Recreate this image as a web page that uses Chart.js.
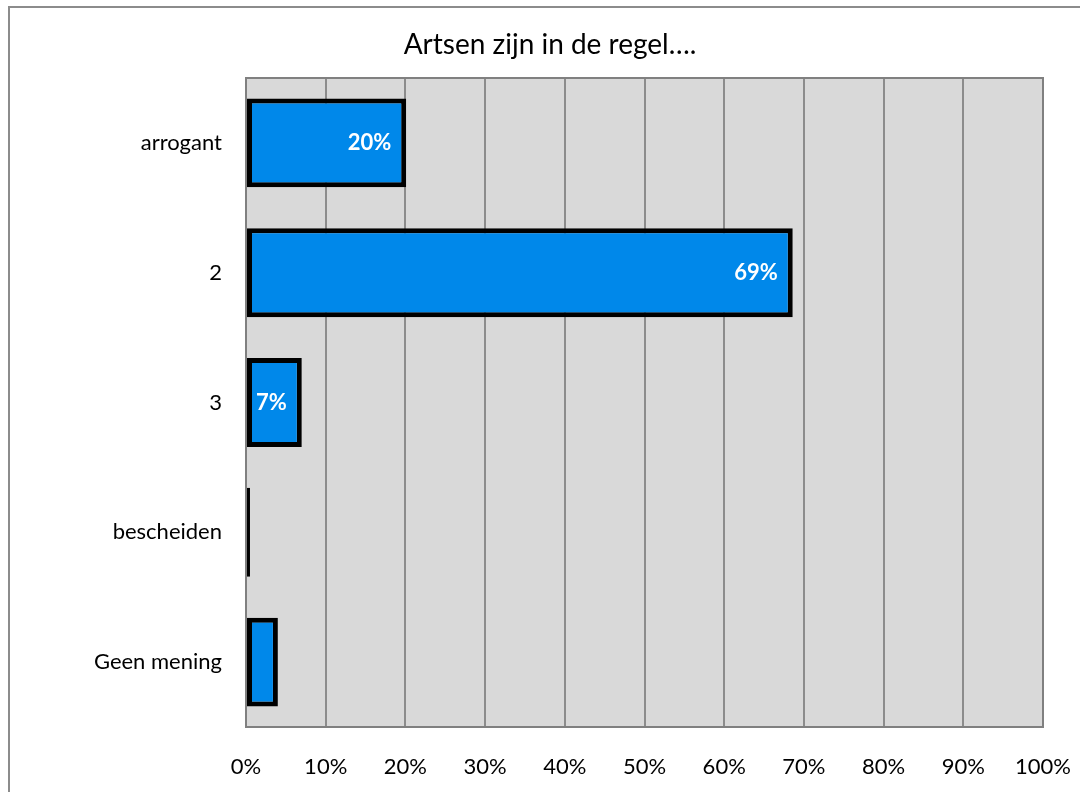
<!DOCTYPE html>
<html>
<head>
    <meta charset="utf-8">
    <title>Artsen zijn in de regel....</title>
    <script src="https://cdn.jsdelivr.net/npm/chart.js"></script>
    <style>
        html, body {
            margin: 0;
            overflow: hidden;
            background-color: #ffffff;
            font-family: 'Lato', sans-serif;
        }
        #frame {
            position: absolute;
            left: 8px;
            top: 6px;
            width: 1072px;
            height: 786px;
            border-left: 2px solid #8c8c8c;
            border-top: 2px solid #8c8c8c;
        }
        #wrap {
            position: absolute;
            left: 0;
            top: 0;
            width: 1080px;
            height: 792px;
        }
    </style>
</head>
<body>
    <div id="frame"></div>
    <div id="wrap">
        <canvas id="myChart"></canvas>
    </div>
    <script>
        const chartTitle = "Artsen zijn in de regel….";
        const categories = ["arrogant", "2", "3", "bescheiden", "Geen mening"];
        const shares = [20.1, 68.6, 7.0, 0.5, 4.0];
        const minLabelValue = 5;

        // grey plot background + border round the plot area
        var plotBox = {
            id: "plotBox",
            beforeDraw(chart) {
                const a = chart.chartArea;
                const ctx = chart.ctx;
                ctx.save();
                ctx.fillStyle = "#d9d9d9";
                ctx.fillRect(a.left, a.top, a.right - a.left, a.bottom - a.top);
                ctx.restore();
            },
            afterDraw(chart) {
                const a = chart.chartArea;
                const ctx = chart.ctx;
                ctx.save();
                ctx.strokeStyle = "#808080";
                ctx.lineWidth = 2;
                ctx.strokeRect(a.left, a.top, a.right - a.left, a.bottom - a.top);
                // title, centred over the frame like the original
                ctx.fillStyle = "#000000";
                ctx.font = "28px Lato";
                ctx.textAlign = "center";
                ctx.textBaseline = "middle";
                ctx.fillText(chartTitle, 550, 45);
                ctx.restore();
            }
        };

        // percentage labels inside the bar ends
        var barLabels = {
            id: "barLabels",
            afterDatasetsDraw(chart) {
                const ctx = chart.ctx;
                const meta = chart.getDatasetMeta(0);
                ctx.save();
                ctx.fillStyle = "#ffffff";
                ctx.font = "bold 22px Lato";
                ctx.textAlign = "right";
                ctx.textBaseline = "middle";
                meta.data.forEach((bar, i) => {
                    const v = shares[i];
                    if (v < minLabelValue) return;
                    ctx.fillText(Math.round(v) + "%", bar.x - 15, bar.y);
                });
                ctx.restore();
            }
        };

        var ctx = document.getElementById("myChart").getContext("2d");
        var myChart = new Chart(ctx, {
            type: "bar",
            data: {
                labels: categories,
                datasets: [{
                    data: shares,
                    backgroundColor: "#0088ea",
                    borderColor: "#000000",
                    borderWidth: 5,
                    borderSkipped: false,
                    categoryPercentage: 1,
                    barPercentage: 0.685,
                }, ],
            },
            options: {
                indexAxis: "y",
                responsive: true,
                maintainAspectRatio: false,
                animation: false,
                layout: {
                    padding: { top: 78, right: 37, left: 0, bottom: 0 },
                },
                plugins: {
                    legend: { display: false },
                    title: { display: false },
                    tooltip: { enabled: false },
                },
                scales: {
                    x: {
                        min: 0,
                        max: 100,
                        ticks: {
                            stepSize: 10,
                            padding: 27,
                            color: "#000000",
                            font: { family: "Lato", size: 22 },
                            callback: (v) => v + "%",
                        },
                        grid: {
                            color: "#8c8c8c",
                            lineWidth: 2,
                            drawTicks: false,
                        },
                        border: { display: false },
                        afterFit(scale) {
                            scale.height = 65;
                            scale.paddingLeft = 0;
                            scale.paddingRight = 0;
                        },
                    },
                    y: {
                        ticks: {
                            padding: 24,
                            color: "#000000",
                            font: { family: "Lato", size: 22 },
                        },
                        grid: { display: false, drawTicks: false },
                        border: { display: false },
                        afterFit(scale) {
                            scale.width = 246;
                        },
                    },
                },
            },
            plugins: [plotBox, barLabels],
        });
    </script>
</body>
</html>
